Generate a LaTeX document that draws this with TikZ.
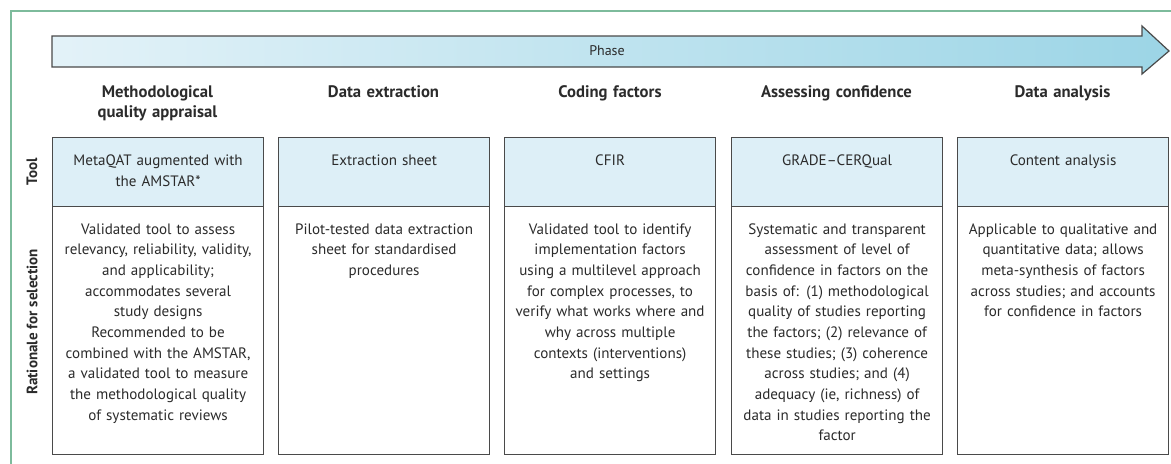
\documentclass[tikz,border=0pt]{standalone}
\usepackage{fontspec}
\setmainfont{PT Sans}
\usepackage{tikz}
\usetikzlibrary{shapes,arrows,positioning}
\definecolor{framegreen}{HTML}{7DBB9C}
\definecolor{toolblue}{HTML}{DDEFF7}
\definecolor{arrowlight}{HTML}{E3F2F8}
\definecolor{arrowdark}{HTML}{9CD5E6}
\definecolor{boxline}{HTML}{4A4A4A}
\definecolor{txt}{HTML}{2B2B2B}
\tikzstyle{toolbox} = [draw=boxline, fill=toolblue, line width=0.9pt, minimum width=211*0.75pt, minimum height=69*0.75pt, anchor=north west, inner sep=0pt]
\tikzstyle{ratbox} = [draw=boxline, line width=0.9pt, minimum width=211*0.75pt, minimum height=248*0.75pt, anchor=north west, inner sep=0pt]
\tikzstyle{celltext} = [anchor=north, text width=205*0.75pt, align=center, inner sep=0pt, text=txt, font=\fontsize{11.3}{15.5}\selectfont]
\tikzstyle{phasehead} = [anchor=north, text width=205*0.75pt, align=center, inner sep=0pt, text=txt, font=\fontsize{12.5}{15}\selectfont\bfseries]
\tikzstyle{rowlabel} = [rotate=90, text=txt, font=\fontsize{11.3}{13}\selectfont\bfseries]

\begin{document}
\begin{tikzpicture}[x=0.75pt, y=-0.75pt]
			\useasboundingbox (0,0) rectangle (1171,464);
			\draw [framegreen, line width=1.2pt] (11,464) -- (11,11) -- (1171,11);
			
			% phase arrow
			\path [draw=boxline, line width=0.9pt, left color=arrowlight, right color=arrowdark]
				(52,36) -- (1142,36) -- (1142,26) -- (1169,51) -- (1142,74) -- (1142,67) -- (52,67) -- cycle;
			\node [text=txt, font=\fontsize{10.5}{13}\selectfont] (phase) at (607,51) {Phase};
			
			% phase headings
			\node [phasehead] (h1) at (157.5,85) {Methodological\\quality appraisal};
			\node [phasehead] (h2) at (383.5,85) {Data extraction};
			\node [phasehead] (h3) at (610,85) {Coding factors};
			\node [phasehead] (h4) at (836.5,85) {Assessing confidence};
			\node [phasehead] (h5) at (1062.5,85) {Data analysis};
			
			% row labels
			\node [rowlabel] (toollabel) at (32,172) {Tool};
			\node [rowlabel] (ratlabel) at (32,322) {Rationale for selection};
			
			% tool cells
			\node [toolbox] (t1) at (52,137) {};
			\node [toolbox] (t2) at (278,137) {};
			\node [toolbox] (t3) at (504,137) {};
			\node [toolbox] (t4) at (731,137) {};
			\node [toolbox] (t5) at (957,137) {};
			
			% rationale cells
			\node [ratbox] (r1) at (52,206) {};
			\node [ratbox] (r2) at (278,206) {};
			\node [ratbox] (r3) at (504,206) {};
			\node [ratbox] (r4) at (731,206) {};
			\node [ratbox] (r5) at (957,206) {};
			
			% tool texts
			\node [celltext, below=13.5pt of t1.north] (tt1) {MetaQAT augmented with\\the AMSTAR*};
			\node [celltext, below=13.5pt of t2.north] (tt2) {Extraction sheet};
			\node [celltext, below=13.5pt of t3.north] (tt3) {CFIR};
			\node [celltext, below=13.5pt of t4.north] (tt4) {GRADE--CERQual};
			\node [celltext, below=13.5pt of t5.north] (tt5) {Content analysis};
			
			% rationale texts
			\node [celltext, below=13pt of r1.north] (rt1) {Validated tool to assess\\relevancy, reliability, validity,\\and applicability;\\accommodates several\\study designs\\Recommended to be\\combined with the AMSTAR,\\a validated tool to measure\\the methodological quality\\of systematic reviews};
			\node [celltext, below=13pt of r2.north] (rt2) {Pilot-tested data extraction\\sheet for standardised\\procedures};
			\node [celltext, below=13pt of r3.north] (rt3) {Validated tool to identify\\implementation factors\\using a multilevel approach\\for complex processes, to\\verify what works where and\\why across multiple\\contexts (interventions)\\and settings};
			\node [celltext, below=13pt of r4.north] (rt4) {Systematic and transparent\\assessment of level of\\confidence in factors on the\\basis of: (1) methodological\\quality of studies reporting\\the factors; (2) relevance of\\these studies; (3) coherence\\across studies; and (4)\\adequacy (ie, richness) of\\data in studies reporting the\\factor};
			\node [celltext, below=13pt of r5.north] (rt5) {Applicable to qualitative and\\quantitative data; allows\\meta-synthesis of factors\\across studies; and accounts\\for confidence in factors};
		\end{tikzpicture}
\end{document}
